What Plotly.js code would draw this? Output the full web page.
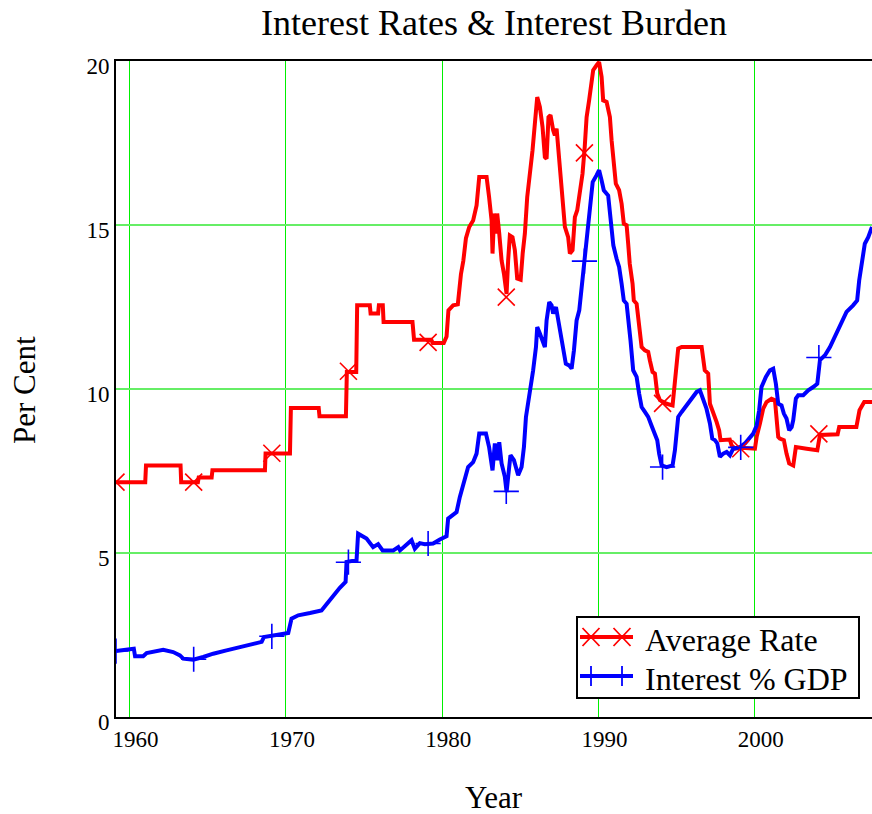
<!DOCTYPE html>
<html>
<head>
<meta charset="utf-8">
<script src="https://cdn.plot.ly/plotly-3.0.1.min.js"></script>
<style>
  html, body { margin: 0; padding: 0; background: #fff; }
  #chart { width: 872px; height: 814px; }
</style>
</head>
<body>
<div id="chart"></div>
<script>
// ---- Data ----
const rateYears = [1959.13,1961.0,1961.05,1963.26,1963.3,1964.37,1964.42,1965.25,1965.3,1968.66,1968.7,1970.26,1970.32,1972.1,1972.15,1973.84,1973.9,1974.5,1974.56,1975.37,1975.42,1975.9,1975.95,1976.2,1976.25,1978.1,1978.2,1979.3,1979.4,1980.1,1980.28,1980.4,1980.7,1981.0,1981.2,1981.35,1981.52,1981.73,1981.98,1982.2,1982.37,1982.84,1983.0,1983.16,1983.22,1983.33,1983.43,1983.52,1983.65,1983.8,1983.95,1984.12,1984.22,1984.33,1984.5,1984.65,1984.8,1985.02,1985.15,1985.29,1985.44,1985.61,1985.78,1985.93,1986.08,1986.25,1986.42,1986.57,1986.68,1986.8,1986.93,1987.1,1987.21,1987.32,1987.49,1987.7,1987.85,1988.06,1988.17,1988.34,1988.49,1988.64,1988.8,1988.98,1989.12,1989.24,1989.4,1989.56,1989.66,1989.88,1990.04,1990.2,1990.3,1990.52,1990.73,1990.84,1990.98,1991.11,1991.32,1991.48,1991.62,1991.8,1991.9,1992.0,1992.18,1992.26,1992.44,1992.6,1992.76,1992.97,1993.18,1993.29,1993.46,1993.61,1993.76,1993.93,1994.36,1994.74,1994.89,1995.1,1995.32,1996.6,1996.8,1997.02,1997.13,1997.34,1997.56,1997.72,1997.81,1998.4,1998.52,1998.73,1999.16,2000.01,2000.12,2000.33,2000.54,2000.75,2001.07,2001.29,2001.39,2001.5,2001.6,2001.86,2002.03,2002.2,2002.46,2002.63,2003.32,2004.0,2004.17,2005.3,2005.4,2006.5,2006.7,2007.0,2007.5];
const rateVals = [7.16,7.16,7.67,7.67,7.16,7.16,7.30,7.30,7.52,7.52,8.03,8.03,9.42,9.42,9.17,9.17,10.52,10.52,12.55,12.55,12.3,12.3,12.55,12.55,12.04,12.04,11.5,11.5,11.4,11.4,11.6,12.4,12.55,12.58,13.5,13.9,14.6,14.94,15.14,15.6,16.46,16.46,15.85,15.14,14.13,15.35,14.74,15.35,14.74,13.92,13.52,12.9,13.92,14.68,14.63,14.23,13.37,13.33,14.13,14.74,15.85,16.52,17.28,18.09,18.9,18.6,17.99,17.07,17.02,18.29,18.35,17.89,17.73,17.94,17.07,15.96,14.94,14.63,14.13,14.23,15.24,15.45,15.96,16.57,17.38,18.29,18.8,19.41,19.72,19.87,19.97,19.51,18.8,18.75,18.29,17.58,16.77,16.26,16.06,15.65,15.04,14.99,14.43,13.82,13.21,12.7,12.6,11.89,11.28,11.18,11.13,10.87,10.52,10.47,9.86,9.66,9.55,9.50,10.16,11.23,11.28,11.28,10.57,10.47,9.55,9.3,8.99,8.74,8.44,8.46,8.28,8.18,8.21,8.18,8.54,8.95,9.4,9.6,9.7,9.66,8.95,8.54,8.49,8.44,8.03,7.73,7.67,8.23,8.18,8.13,8.6,8.62,8.84,8.84,9.35,9.6,9.6];

const gdpYears = [1959.13,1959.8,1960.27,1960.35,1960.87,1961.09,1961.5,1962.15,1962.79,1963.22,1963.43,1964.07,1964.71,1965.35,1966.2,1966.85,1967.7,1968.45,1968.6,1969.3,1970.15,1970.36,1970.79,1971.54,1971.96,1972.28,1972.6,1973.03,1973.45,1973.82,1973.88,1974.52,1974.62,1975.16,1975.58,1975.9,1976.19,1976.87,1977.19,1977.3,1978.04,1978.25,1978.57,1978.89,1979.42,1979.85,1980.28,1980.38,1980.7,1980.92,1981.13,1981.45,1981.66,1981.98,1982.2,1982.37,1982.8,1983.0,1983.22,1983.37,1983.52,1983.65,1983.8,1984.01,1984.12,1984.22,1984.37,1984.59,1984.76,1984.86,1985.08,1985.23,1985.36,1985.5,1985.66,1985.82,1986.0,1986.08,1986.25,1986.42,1986.57,1986.68,1986.85,1987.0,1987.1,1987.28,1987.49,1987.7,1987.91,1988.12,1988.28,1988.43,1988.6,1988.77,1988.92,1989.07,1989.2,1989.34,1989.5,1989.63,1989.88,1990.04,1990.2,1990.34,1990.62,1990.73,1990.84,1990.95,1991.16,1991.32,1991.48,1991.62,1991.8,1991.96,1992.05,1992.22,1992.44,1992.6,1992.76,1992.97,1993.18,1993.39,1993.61,1993.76,1993.88,1994.04,1994.36,1994.74,1994.89,1995.1,1995.32,1995.64,1995.96,1996.28,1996.49,1996.7,1996.91,1997.13,1997.28,1997.45,1997.6,1997.77,1997.98,1998.2,1998.41,1998.62,1999.05,1999.37,1999.65,1999.9,2000.12,2000.28,2000.43,2000.71,2000.97,2001.18,2001.35,2001.5,2001.71,2001.86,2002.03,2002.2,2002.36,2002.46,2002.63,2002.78,2003.1,2003.42,2003.74,2004.0,2004.17,2004.49,2004.81,2005.02,2005.33,2005.55,2005.87,2006.29,2006.55,2006.68,2006.83,2007.04,2007.26,2007.5];
const gdpVals = [2.01,2.05,2.08,1.85,1.85,1.95,1.98,2.05,1.98,1.88,1.78,1.75,1.83,1.93,2.03,2.1,2.19,2.29,2.44,2.49,2.56,3.0,3.1,3.17,3.2,3.25,3.44,3.71,3.94,4.12,4.73,4.78,5.59,5.44,5.18,5.27,5.08,5.08,5.18,5.08,5.39,5.13,5.3,5.27,5.29,5.41,5.51,6.05,6.15,6.25,6.71,7.25,7.62,7.77,8.03,8.64,8.64,8.23,7.52,8.34,7.83,8.38,7.73,7.32,6.86,7.32,7.98,7.83,7.52,7.37,7.62,8.23,9.15,9.55,9.96,10.57,11.28,11.89,11.69,11.48,11.28,12.09,12.65,12.55,12.3,12.5,11.89,11.38,10.77,10.72,10.62,11.18,12.09,12.4,13.11,13.72,14.43,15.14,15.75,16.31,16.52,16.67,16.36,16.06,15.9,15.45,14.84,14.38,13.97,13.72,13.21,12.7,12.6,11.99,11.48,10.57,10.37,9.86,9.45,9.3,9.15,8.89,8.64,8.44,8.03,7.67,7.62,7.67,8.13,9.15,9.3,9.5,9.71,9.91,9.96,9.66,9.4,8.95,8.49,8.44,8.34,7.93,8.03,8.08,7.98,8.18,8.23,8.34,8.49,8.64,8.89,9.35,10.06,10.37,10.57,10.62,10.16,9.55,9.5,9.25,9.1,8.74,8.84,9.05,9.71,9.81,9.81,9.96,10.06,10.16,10.88,11.03,11.28,11.48,11.79,12.04,12.35,12.55,12.7,13.31,13.87,14.43,14.63,14.94];

// symbol positions (every five years)
const markYears = [1959.13,1964.1,1969.1,1974.0,1979.1,1984.1,1989.1,1994.1,1999.1,2004.1];
const rateMarks = [7.16,7.16,8.04,10.54,11.42,12.8,17.2,9.56,8.18,8.63];
const gdpMarks  = [2.01,1.76,2.46,4.72,5.29,6.88,13.9,7.62,8.22,10.96];

const yearTicks = [1960,1970,1980,1990,2000];
const valueTicks = [0,5,10,15,20];
const seriesNames = ['Average Rate','Interest % GDP'];

const FONT = "'Liberation Serif', 'Times New Roman', 'DejaVu Serif', serif";
const RED = '#ff0000', BLUE = '#0000ff';

const traces = [
  {x: rateYears, y: rateVals, type: 'scatter', mode: 'lines',
   line: {color: RED, width: 4}, showlegend: false, hoverinfo: 'skip'},
  {x: gdpYears, y: gdpVals, type: 'scatter', mode: 'lines',
   line: {color: BLUE, width: 4}, showlegend: false, hoverinfo: 'skip'},
  {x: markYears, y: rateMarks, type: 'scatter', mode: 'markers',
   marker: {symbol: 'x-thin', size: 17, color: RED, line: {color: RED, width: 1.6}},
   showlegend: false, hoverinfo: 'skip'},
  {x: markYears, y: gdpMarks, type: 'scatter', mode: 'markers',
   marker: {symbol: 'cross-thin', size: 18, color: BLUE, line: {color: BLUE, width: 1.6}},
   showlegend: false, hoverinfo: 'skip'}
];

// ---- Hand-built legend box (plot area: left 116px, right 872px, top 61px, bottom 717px) ----
const PL = 116, PW = 756, PB = 717, PH = 656;
const px = v => (v - PL) / PW;
const py = v => (PB - v) / PH;
const legendRows = [
  {name: seriesNames[0], color: RED, lineY: 637, textY: 640, sym: 'x'},
  {name: seriesNames[1], color: BLUE, lineY: 676, textY: 679, sym: '+'}
];
const shapes = [
  {type: 'rect', xref: 'paper', yref: 'paper', x0: px(577), x1: px(859), y0: py(698), y1: py(617),
   line: {color: '#000', width: 2}, fillcolor: '#ffffff', layer: 'above'}
];
const annotations = [
  {text: 'Per Cent', xref: 'paper', yref: 'paper', x: px(25), y: py(390),
   xanchor: 'center', yanchor: 'middle', textangle: -90, showarrow: false,
   font: {family: FONT, size: 31, color: '#000'}},
  {text: 'Year', xref: 'paper', yref: 'paper', x: px(494), y: py(797),
   xanchor: 'center', yanchor: 'middle', showarrow: false,
   font: {family: FONT, size: 31, color: '#000'}}
];
legendRows.forEach(r => {
  shapes.push({type: 'line', xref: 'paper', yref: 'paper', x0: px(580), x1: px(633),
               y0: py(r.lineY), y1: py(r.lineY), line: {color: r.color, width: 4}, layer: 'above'});
  [591, 622].forEach(cx => {
    const path = r.sym === 'x' ? 'M-8.5,-9L8.5,9M-8.5,9L8.5,-9' : 'M0,-10L0,10';
    shapes.push({type: 'path', xref: 'paper', yref: 'paper', xsizemode: 'pixel', ysizemode: 'pixel',
                 xanchor: px(cx), yanchor: py(r.lineY), path: path,
                 line: {color: r.color, width: 1.8}, layer: 'above'});
  });
  annotations.push({text: r.name, xref: 'paper', yref: 'paper', x: px(643), y: py(r.textY),
                    xanchor: 'left', yanchor: 'middle', showarrow: false,
                    font: {family: FONT, size: 32, color: '#000'}});
});

const layout = {
  width: 872, height: 814,
  margin: {l: 116, r: 0, t: 61, b: 97, pad: 0},
  paper_bgcolor: '#ffffff', plot_bgcolor: '#ffffff',
  font: {family: FONT, color: '#000', size: 23},
  title: {text: 'Interest Rates & Interest Burden', font: {family: FONT, size: 36, color: '#000'},
          x: 0.5, xref: 'paper', xanchor: 'center', y: 0.973, yref: 'container', yanchor: 'middle'},
  xaxis: {
    range: [1959.13, 2007.5], tickvals: yearTicks, ticktext: yearTicks.map(String),
    showgrid: true, gridcolor: '#00f000', gridwidth: 1,
    showline: true, linecolor: '#000', linewidth: 2, mirror: true,
    ticks: '', zeroline: false, tickfont: {family: FONT, size: 23, color: '#000'},
    ticklabelshift: 6
  },
  yaxis: {
    range: [0, 20], tickvals: valueTicks, ticktext: valueTicks.map(String),
    showgrid: true, gridcolor: '#66ee66', gridwidth: 2,
    showline: true, linecolor: '#000', linewidth: 2,
    ticks: '', zeroline: false, tickfont: {family: FONT, size: 23, color: '#000'},
    ticklabelshift: 5
  },
  showlegend: false,
  shapes: shapes,
  annotations: annotations,
  hovermode: false
};

Plotly.newPlot('chart', traces, layout, {displayModeBar: false, staticPlot: true});
</script>
</body>
</html>
